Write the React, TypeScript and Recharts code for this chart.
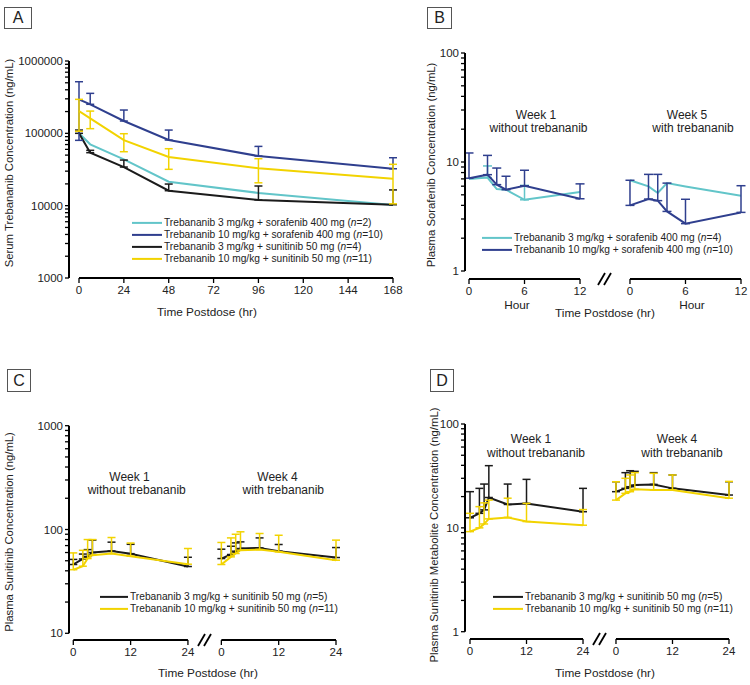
import React from 'react';
import { ComposedChart, Line, XAxis, YAxis, ErrorBar } from 'recharts';

const FONT = '"Liberation Sans", Arial, Helvetica, sans-serif';
const TEXT = '#222';
const C_CYAN = '#62c5c9';
const C_BLUE = '#2f3f8e';
const C_YELLOW = '#f2d300';
const C_BLACK = '#1b1b1b';

// ---------- Panel A : serum trebananib ----------
const aTimes = [0, 6, 24, 48, 96, 168];
const aXTicks = [0, 24, 48, 72, 96, 120, 144, 168];
const aYMajor = [1000, 10000, 100000, 1000000];
const aCyanMean = [100000, 70500, 43700, 21400, 15000, 10200];
const aBlueMean = [295000, 252000, 148000, 80800, 48500, 32400];
const aBlueUpper = [517000, 357000, 210000, 111000, 66000, 46000];
const aBlueLower = [80000, null, null, null, null, null];
const aBlackMean = [100000, 54000, 34200, 16100, 12000, 10300];
const aBlackUpper = [111000, 58200, 42700, 19900, 18700, 16500];
const aYellowMean = [203000, 161000, 80700, 47000, 32800, 23600];
const aYellowUpper = [295000, 203000, 98800, 61300, 44600, 37300];
const aYellowLower = [107000, 116000, 55700, 31800, 20700, 10600];

// ---------- Panel B : plasma sorafenib ----------
const bTimes = [0, 2, 3, 4, 6, 12];
const bXTicks = [0, 6, 12];
const bYMajor = [1, 10, 100];
const bW1CyanMean = [7.0, 7.2, 5.65, 5.57, 4.5, 5.3];
const bW1CyanUpper = [null, 9.2, null, null, 6.1, null];
const bW1BlueMean = [7.1, 7.65, 6.2, 5.57, 6.06, 4.6];
const bW1BlueUpper = [12.1, 11.5, 8.8, 7.4, 8.4, 6.3];
const bW5CyanMean = [6.8, 5.97, 5.2, 6.4, 5.95, 4.9];
const bW5BlueMean = [4.0, 4.57, 4.42, 3.52, 2.72, 3.45];
const bW5BlueUpper = [6.8, 7.7, 7.7, 6.4, 4.55, 6.06];

// ---------- Panel C : plasma sunitinib ----------
const cTimes = [0, 2, 3, 4, 8, 12, 24];
const cXTicks = [0, 12, 24];
const cYMajor = [10, 100, 1000];
const cW1BlackMean = [46, 52, 55, 60, 62, 58.5, 44];
const cW1BlackUpper = [51.5, 58, 64, 79, 75.5, 72, 54];
const cW1YellowMean = [41, 44.3, 52.5, 56.6, 58.7, 55.3, 46.3];
const cW1YellowUpper = [59.5, 63, 80, 80, 83.7, 74, 65.6];
const cW4BlackMean = [52.5, 57.4, 61.8, 65.6, 66.5, 61.8, 53.7];
const cW4BlackUpper = [64.6, 69, 74.3, 76, 83, 71.7, 67];
const cW4YellowMean = [46, 54.5, 58.7, 63.2, 64.1, 60.9, 50.6];
const cW4YellowUpper = [75, 83, 90, 95, 91.5, 88, 79];

// ---------- Panel D : plasma sunitinib metabolite ----------
const dTimes = [0, 2, 3, 4, 8, 12, 24];
const dXTicks = [0, 12, 24];
const dYMajor = [1, 10, 100];
const dW1BlackMean = [12.5, 13.8, 14.9, 19.6, 16.8, 17.2, 14.3];
const dW1BlackUpper = [22.3, 24, 26.4, 39.7, 26.4, 29.3, 24];
const dW1YellowMean = [9.2, 10, 10.9, 12.2, 12.6, 11.5, 10.6];
const dW1YellowUpper = [13.8, 16, 17.4, 18.5, 19.3, 17.2, 15];
const dW4BlackMean = [22.3, 24, 24.9, 25.8, 26.2, 24, 20.7];
const dW4BlackUpper = [27.8, 34, 35.5, 35, 34, 32.3, 27.8];
const dW4YellowMean = [18.5, 21.5, 22.3, 23.5, 23.2, 23.2, 19.3];
const dW4YellowUpper = [27.8, 30, 32.3, 34, 33.5, 32.3, 28];

// legends
const legendA = [
  { color: C_CYAN, label: 'Trebananib 3 mg/kg + sorafenib 400 mg', n: 2 },
  { color: C_BLUE, label: 'Trebananib 10 mg/kg + sorafenib 400 mg', n: 10 },
  { color: C_BLACK, label: 'Trebananib 3 mg/kg + sunitinib 50 mg', n: 4 },
  { color: C_YELLOW, label: 'Trebananib 10 mg/kg + sunitinib 50 mg', n: 11 },
];
const legendB = [
  { color: C_CYAN, label: 'Trebananib 3 mg/kg + sorafenib 400 mg', n: 4 },
  { color: C_BLUE, label: 'Trebananib 10 mg/kg + sorafenib 400 mg', n: 10 },
];
const legendCD = [
  { color: C_BLACK, label: 'Trebananib 3 mg/kg + sunitinib 50 mg', n: 5 },
  { color: C_YELLOW, label: 'Trebananib 10 mg/kg + sunitinib 50 mg', n: 11 },
];

// ---------- helpers ----------
type Num = number | null;
function build(times: number[], mean: number[], upper?: Num[], lower?: Num[], offset = 0) {
  return times.map((t, i) => {
    const u = upper ? upper[i] : null;
    const l = lower ? lower[i] : null;
    const has = u != null || l != null;
    return {
      x: t + offset,
      y: mean[i],
      err: has ? [l != null ? mean[i] - (l as number) : 0, u != null ? (u as number) - mean[i] : 0] : null,
    };
  });
}

function logTicks(majors: number[]) {
  const out: number[] = [];
  majors.forEach((m, idx) => {
    out.push(m);
    if (idx < majors.length - 1) for (let k = 2; k <= 9; k++) out.push(m * k);
  });
  return out;
}

function series(key: string, data: any[], color: string, capW = 4) {
  return (
    <Line
      key={key}
      data={data}
      dataKey="y"
      type="linear"
      stroke={color}
      strokeWidth={2}
      dot={false}
      activeDot={false}
      isAnimationActive={false}
    >
      <ErrorBar dataKey="err" direction="y" width={capW} stroke={color} strokeWidth={1.5} isAnimationActive={false} />
    </Line>
  );
}

const axisStroke = { stroke: '#000', strokeWidth: 2 };
const tickStroke = { stroke: '#000', strokeWidth: 1.3 };
const tickFont = { fontSize: 11.5, fill: TEXT, fontFamily: FONT };

const Txt = ({ x, y, size = 12, rotate = false, children }: any) => (
  <div
    style={{
      position: 'absolute',
      left: x,
      top: y,
      transform: `translate(-50%,-50%)${rotate ? ' rotate(-90deg)' : ''}`,
      fontSize: size,
      fontFamily: FONT,
      color: TEXT,
      whiteSpace: 'nowrap',
      lineHeight: 1,
    }}
  >
    {children}
  </div>
);

const PanelLabel = ({ x, y, w, h, letter }: any) => (
  <div
    style={{
      position: 'absolute',
      left: x,
      top: y,
      width: w,
      height: h,
      boxSizing: 'border-box',
      border: '1px solid #555',
      display: 'flex',
      alignItems: 'center',
      justifyContent: 'center',
      fontFamily: FONT,
      fontSize: 16,
      color: TEXT,
    }}
  >
    {letter}
  </div>
);

const Legend = ({ x, y, lineW, gap, items }: any) => (
  <>
    {items.map((it: any, i: number) => (
      <div
        key={i}
        style={{
          position: 'absolute',
          left: x,
          top: y + i * gap,
          transform: 'translateY(-50%)',
          display: 'flex',
          alignItems: 'center',
          whiteSpace: 'nowrap',
          fontFamily: FONT,
          fontSize: 10.2,
          color: TEXT,
          lineHeight: 1,
        }}
      >
        <span style={{ display: 'inline-block', width: lineW, height: 2, background: it.color, marginRight: 2 }} />
        <span>
          {it.label} (<i>n</i>={it.n})
        </span>
      </div>
    ))}
  </>
);

const BreakMark = ({ x, y }: any) => (
  <svg style={{ position: 'absolute', left: x - 9, top: y - 8 }} width={18} height={16}>
    <rect x={5} y={6} width={8} height={4} fill="#fff" />
    <line x1={2} y1={14} x2={9} y2={2} stroke="#000" strokeWidth={1.8} />
    <line x1={8} y1={14} x2={15} y2={2} stroke="#000" strokeWidth={1.8} />
  </svg>
);

// layout for broken-axis panels
type Geo = {
  left: number; top: number; w: number; h: number; mTop: number; mRight: number;
  yW: number; xH: number; padL: number; padR: number; padB: number; seg: number; offset: number; max: number;
};
function geoCalc(g: Geo) {
  const plotW = g.w - g.mRight - g.yW;
  const plotH = g.h - g.mTop - g.xH;
  const k = (plotW - g.padL - g.padR) / g.max;
  const dash = `0 ${g.padL} ${g.seg * k} ${(g.offset - g.seg) * k} ${g.seg * k} 3000`;
  const yDash = `${plotH - g.padB} 3000`;
  const breakX = g.left + g.yW + g.padL + ((g.seg + g.offset) / 2) * k;
  const breakY = g.top + g.h - g.xH;
  return { dash, yDash, breakX, breakY };
}

function BrokenChart({ g, ticksW1, ticksW2, yMajor, lines }: any) {
  const c = geoCalc(g);
  const xt = [...ticksW1, ...ticksW2.map((t: number) => t + g.offset)];
  const yt = logTicks(yMajor);
  return (
    <>
      <div style={{ position: 'absolute', left: g.left, top: g.top }}>
        <ComposedChart width={g.w} height={g.h} margin={{ top: g.mTop, right: g.mRight, bottom: 0, left: 0 }}>
          <XAxis
            type="number"
            dataKey="x"
            domain={[0, g.max]}
            ticks={xt}
            interval={0}
            allowDataOverflow
            padding={{ left: g.padL, right: g.padR }}
            height={g.xH}
            tickSize={5}
            tickMargin={3}
            axisLine={{ ...axisStroke, strokeDasharray: c.dash }}
            tickLine={tickStroke}
            tick={tickFont}
            tickFormatter={(v: number) => String(Math.round(v >= g.offset - 0.01 ? v - g.offset : v))}
          />
          <YAxis
            type="number"
            scale="log"
            domain={[yMajor[0], yMajor[yMajor.length - 1]]}
            ticks={yt}
            interval={0}
            allowDataOverflow
            width={g.yW}
            padding={{ top: 0, bottom: g.padB }}
            tickSize={4}
            tickMargin={2}
            axisLine={{ ...axisStroke, strokeDasharray: c.yDash }}
            tickLine={tickStroke}
            tick={tickFont}
            tickFormatter={(v: number) => (yMajor.includes(v) ? String(v) : '')}
          />
          {lines}
        </ComposedChart>
      </div>
      <BreakMark x={c.breakX} y={c.breakY} />
    </>
  );
}

const geoB: Geo = { left: 375, top: 0, w: 375, h: 300, mTop: 53, mRight: 7, yW: 90, xH: 21, padL: 4, padR: 2, padB: 8, seg: 12, offset: 17.4, max: 29.4 };
const geoC: Geo = { left: 0, top: 340, w: 345, h: 322, mTop: 85.7, mRight: 6, yW: 69, xH: 22, padL: 4.3, padR: 3, padB: 6.7, seg: 24, offset: 31, max: 55 };
const geoD: Geo = { left: 375, top: 340, w: 375, h: 322, mTop: 84, mRight: 18, yW: 90, xH: 23, padL: 5, padR: 3, padB: 7.3, seg: 24, offset: 31, max: 55 };

export default function App() {
  const aY = logTicks(aYMajor);
  return (
    <div style={{ position: 'relative', width: 750, height: 685, background: '#fff', overflow: 'hidden' }}>
      <style>{'body{margin:0;background:#fff}'}</style>

      {/* Panel A */}
      <div style={{ position: 'absolute', left: 0, top: 0 }}>
        <ComposedChart width={415} height={300} margin={{ top: 61, right: 20, bottom: 0, left: 0 }}>
          <XAxis
            type="number"
            dataKey="x"
            domain={[0, 168]}
            ticks={aXTicks}
            interval={0}
            allowDataOverflow
            padding={{ left: 10, right: 2 }}
            height={22}
            tickSize={5}
            tickMargin={3}
            axisLine={{ ...axisStroke, strokeDasharray: '0 10 314 3000' }}
            tickLine={tickStroke}
            tick={tickFont}
          />
          <YAxis
            type="number"
            scale="log"
            domain={[1000, 1000000]}
            ticks={aY}
            interval={0}
            allowDataOverflow
            width={69}
            tickSize={4}
            tickMargin={2}
            axisLine={axisStroke}
            tickLine={tickStroke}
            tick={tickFont}
            tickFormatter={(v: number) => (aYMajor.includes(v) ? String(v) : '')}
          />
          {series('a-cyan', build(aTimes, aCyanMean), C_CYAN)}
          {series('a-black', build(aTimes, aBlackMean, aBlackUpper), C_BLACK)}
          {series('a-blue', build(aTimes, aBlueMean, aBlueUpper, aBlueLower), C_BLUE)}
          {series('a-yellow', build(aTimes, aYellowMean, aYellowUpper, aYellowLower), C_YELLOW)}
        </ComposedChart>
      </div>
      <PanelLabel x={4} y={7} w={28} h={22} letter="A" />
      <Txt x={10} y={163} size={11.3} rotate>Serum Trebananib Concentration (ng/mL)</Txt>
      <Txt x={207} y={313} size={11.8}>Time Postdose (hr)</Txt>
      <Legend x={132} y={223} lineW={30} gap={12} items={legendA} />

      {/* Panel B */}
      <BrokenChart
        g={geoB}
        ticksW1={bXTicks}
        ticksW2={bXTicks}
        yMajor={bYMajor}
        lines={[
          series('b1-cyan', build(bTimes, bW1CyanMean, bW1CyanUpper), C_CYAN, 4.5),
          series('b1-blue', build(bTimes, bW1BlueMean, bW1BlueUpper), C_BLUE, 4.5),
          series('b5-cyan', build(bTimes, bW5CyanMean, undefined, undefined, geoB.offset), C_CYAN, 4.5),
          series('b5-blue', build(bTimes, bW5BlueMean, bW5BlueUpper, undefined, geoB.offset), C_BLUE, 4.5),
        ]}
      />
      <PanelLabel x={427} y={7} w={25} h={22} letter="B" />
      <Txt x={432} y={165} size={11.3} rotate>Plasma Sorafenib Concentration (ng/mL)</Txt>
      <Txt x={536} y={114.5} size={12}>Week 1</Txt>
      <Txt x={538.5} y={128} size={12}>without trebananib</Txt>
      <Txt x={687} y={114.5} size={12}>Week 5</Txt>
      <Txt x={693} y={128} size={12}>with trebananib</Txt>
      <Txt x={517} y={305.5} size={11.8}>Hour</Txt>
      <Txt x={692} y={305.5} size={11.8}>Hour</Txt>
      <Txt x={605} y={314} size={11.8}>Time Postdose (hr)</Txt>
      <Legend x={482} y={237.5} lineW={30} gap={12.7} items={legendB} />

      {/* Panel C */}
      <BrokenChart
        g={geoC}
        ticksW1={cXTicks}
        ticksW2={cXTicks}
        yMajor={cYMajor}
        lines={[
          series('c1-black', build(cTimes, cW1BlackMean, cW1BlackUpper), C_BLACK),
          series('c4-black', build(cTimes, cW4BlackMean, cW4BlackUpper, undefined, geoC.offset), C_BLACK),
          series('c1-yellow', build(cTimes, cW1YellowMean, cW1YellowUpper), C_YELLOW),
          series('c4-yellow', build(cTimes, cW4YellowMean, cW4YellowUpper, undefined, geoC.offset), C_YELLOW),
        ]}
      />
      <PanelLabel x={7} y={369} w={24} h={23} letter="C" />
      <Txt x={10} y={532} size={11.3} rotate>Plasma Sunitinib Concentration (ng/mL)</Txt>
      <Txt x={129.5} y={476.5} size={12}>Week 1</Txt>
      <Txt x={136.7} y={490} size={12}>without trebananib</Txt>
      <Txt x={277.5} y={476.5} size={12}>Week 4</Txt>
      <Txt x={283.3} y={490} size={12}>with trebananib</Txt>
      <Txt x={208} y={673.5} size={11.8}>Time Postdose (hr)</Txt>
      <Legend x={100} y={597.3} lineW={28} gap={12} items={legendCD} />

      {/* Panel D */}
      <BrokenChart
        g={geoD}
        ticksW1={dXTicks}
        ticksW2={dXTicks}
        yMajor={dYMajor}
        lines={[
          series('d1-black', build(dTimes, dW1BlackMean, dW1BlackUpper), C_BLACK),
          series('d4-black', build(dTimes, dW4BlackMean, dW4BlackUpper, undefined, geoD.offset), C_BLACK),
          series('d1-yellow', build(dTimes, dW1YellowMean, dW1YellowUpper), C_YELLOW),
          series('d4-yellow', build(dTimes, dW4YellowMean, dW4YellowUpper, undefined, geoD.offset), C_YELLOW),
        ]}
      />
      <PanelLabel x={430} y={369} w={24} h={23} letter="D" />
      <Txt x={435} y={535} size={11.3} rotate>Plasma Sunitinib Metabolite Concentration (ng/mL)</Txt>
      <Txt x={531} y={439} size={12}>Week 1</Txt>
      <Txt x={536} y={452.5} size={12}>without trebananib</Txt>
      <Txt x={677} y={439} size={12}>Week 4</Txt>
      <Txt x={682} y={452.5} size={12}>with trebananib</Txt>
      <Txt x={605} y={673.5} size={11.8}>Time Postdose (hr)</Txt>
      <Legend x={493} y={597.3} lineW={30} gap={12} items={legendCD} />
    </div>
  );
}
